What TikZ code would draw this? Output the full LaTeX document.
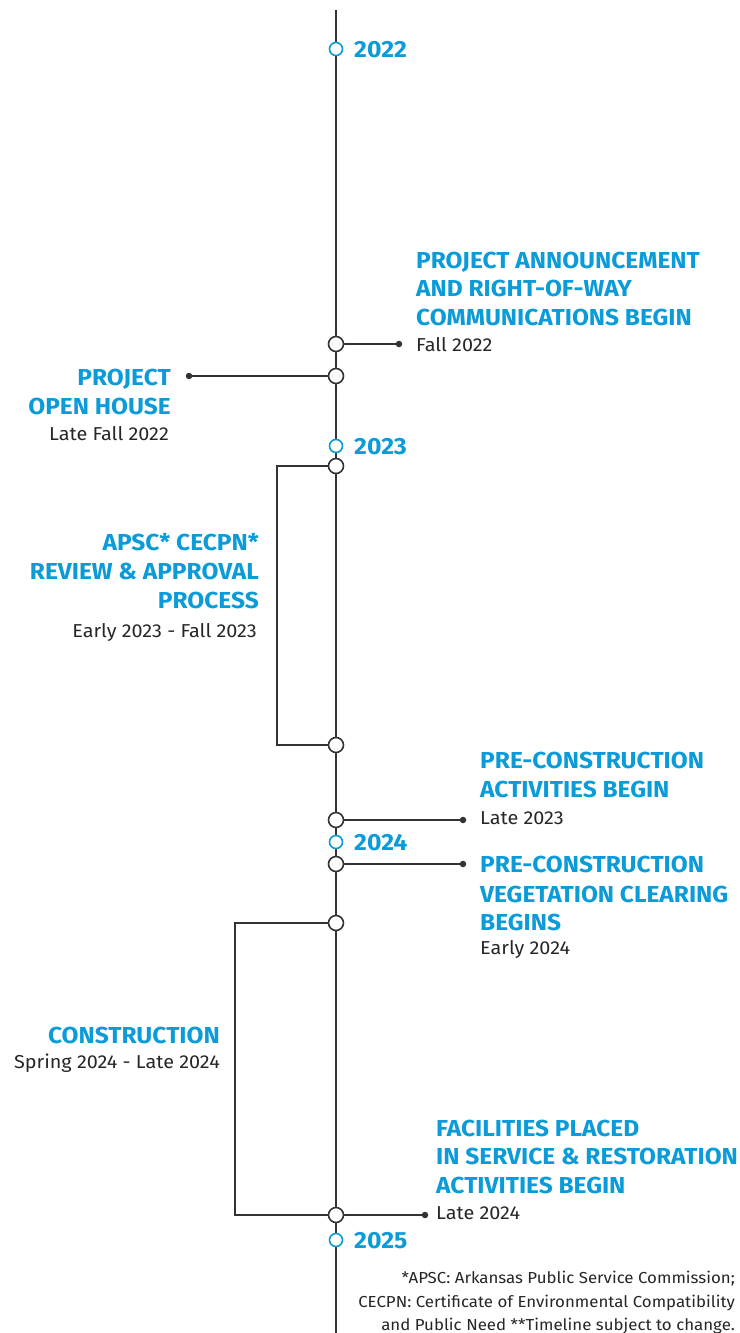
\documentclass[tikz,border=0pt]{standalone}
\usepackage{fontspec}
\setmainfont{Fira Sans}[FakeStretch=1.06]
\definecolor{tlblue}{HTML}{0A9BD8}
\definecolor{tlgray}{HTML}{333333}
\definecolor{tltext}{HTML}{262626}
\tikzset{
  axis/.style={draw=tlgray, line width=1.6pt},
  conn/.style={draw=tlgray, line width=1.6pt},
  yearmark/.style={circle, draw=tlblue, fill=white, line width=1.6pt, minimum size=13pt, inner sep=0pt},
  eventmark/.style={circle, draw=tlgray, fill=white, line width=1.6pt, minimum size=15pt, inner sep=0pt},
  enddot/.style={circle, fill=tlgray, minimum size=6.5pt, inner sep=0pt},
  yeartxt/.style={text=tlblue, font=\fontsize{23.4}{26}\selectfont\bfseries, inner sep=0pt, anchor=base west},
  hdL/.style={text=tlblue, font=\fontsize{23.1}{26}\selectfont\bfseries, inner sep=0pt, anchor=base west},
  hdR/.style={text=tlblue, font=\fontsize{23.1}{26}\selectfont\bfseries, inner sep=0pt, anchor=base east},
  subL/.style={text=tltext, font=\fontsize{18.7}{22}\selectfont, inner sep=0pt, anchor=base west},
  subR/.style={text=tltext, font=\fontsize{18.7}{22}\selectfont, inner sep=0pt, anchor=base east},
  note/.style={text=tltext, font=\fontsize{15.9}{19}\selectfont, inner sep=0pt, anchor=base east}
}
\begin{document}
\begin{tikzpicture}[x=1pt,y=-1pt]
\useasboundingbox (0,0) rectangle (739,1333);
\coordinate (top) at (336,10);
\coordinate (bot) at (336,1333);
\draw[axis] (top) -- (bot);

% brackets
\coordinate (b1a) at (277,466);
\coordinate (b1b) at (277,745);
\coordinate (b2a) at (235,923);
\coordinate (b2b) at (235,1215);

% event circles
\node[eventmark] (e1) at (336,344) {};
\node[eventmark] (e2) at (336,376) {};
\node[eventmark] (e3) at (336,466) {};
\node[eventmark] (e4) at (336,745) {};
\node[eventmark] (e5) at (336,820) {};
\node[eventmark] (e6) at (336,864) {};
\node[eventmark] (e7) at (336,923) {};
\node[eventmark] (e8) at (336,1215) {};

% end dots
\node[enddot] (d1) at (399,344) {};
\node[enddot] (d2) at (189,376) {};
\node[enddot] (d5) at (463,820) {};
\node[enddot] (d6) at (463,864) {};
\node[enddot] (d8) at (425,1215) {};

\draw[conn] (e1) -- (d1);
\draw[conn] (e2) -- (d2);
\draw[conn] (e5) -- (d5);
\draw[conn] (e6) -- (d6);
\draw[conn] (e8) -- (d8);
\draw[conn] (e3.west) -- (b1a) -- (b1b) -- (e4.west);
\draw[conn] (e7.west) -- (b2a) -- (b2b) -- (e8.west);

% year markers
\node[yearmark] (y22) at (336,49) {};
\node[yearmark] (y23) at (336,446) {};
\node[yearmark] (y24) at (336,842) {};
\node[yearmark] (y25) at (336,1240) {};
\node[yeartxt] (t22) at (354,57) {2022};
\node[yeartxt] (t23) at (354,454) {2023};
\node[yeartxt] (t24) at (354,850) {2024};
\node[yeartxt] (t25) at (354,1248) {2025};

% texts
\node[hdL] (h1a) at (416,268) {PROJECT ANNOUNCEMENT};
\node[hdL] (h1b) at (416,296) {AND RIGHT-OF-WAY};
\node[hdL] (h1c) at (416,325) {COMMUNICATIONS BEGIN};
\node[subL] (s1) at (416,351) {Fall 2022};

\node[hdR] (h2a) at (171,385) {PROJECT};
\node[hdR] (h2b) at (171,414) {OPEN HOUSE};
\node[subR] (s2) at (169,440) {Late Fall 2022};

\node[hdR] (h3a) at (259,550) {APSC* CECPN*};
\node[hdR] (h3b) at (259,579) {REVIEW \& APPROVAL};
\node[hdR] (h3c) at (259,608) {PROCESS};
\node[subR] (s3) at (257,637) {Early 2023 - Fall 2023};

\node[hdL] (h5a) at (480,768) {PRE-CONSTRUCTION};
\node[hdL] (h5b) at (480,797) {ACTIVITIES BEGIN};
\node[subL] (s5) at (480,824) {Late 2023};

\node[hdL] (h6a) at (480,872) {PRE-CONSTRUCTION};
\node[hdL] (h6b) at (480,902) {VEGETATION CLEARING};
\node[hdL] (h6c) at (480,930) {BEGINS};
\node[subL] (s6) at (480,954) {Early 2024};

\node[hdR] (h7a) at (220,1043) {CONSTRUCTION};
\node[subR] (s7) at (220,1068) {Spring 2024 - Late 2024};

\node[hdL] (h8a) at (436,1136) {FACILITIES PLACED};
\node[hdL] (h8b) at (436,1164) {IN SERVICE \& RESTORATION};
\node[hdL] (h8c) at (436,1193) {ACTIVITIES BEGIN};
\node[subL] (s8) at (436,1219) {Late 2024};

\node[note] (n1) at (735,1283) {*APSC: Arkansas Public Service Commission;};
\node[note] (n2) at (735,1307) {CECPN: Certificate of Environmental Compatibility};
\node[note] (n3) at (735,1330) {and Public Need **Timeline subject to change.};
\end{tikzpicture}
\end{document}
